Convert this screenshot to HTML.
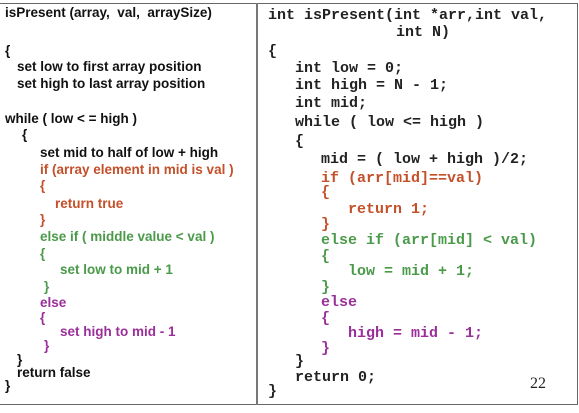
<!DOCTYPE html>
<html><head><meta charset="utf-8"><style>
body{margin:0;width:579px;height:413px;background:#fff;position:relative;overflow:hidden}
.f{position:absolute;left:0;top:3px;width:577px;height:400px;border-top:1.5px solid #666;border-bottom:1.5px solid #666;border-right:1.5px solid #666}
.d{position:absolute;left:256px;top:3px;width:1.5px;height:402px;background:#777}
.l,.r{position:absolute;white-space:pre;line-height:16px}
.l{font:bold 13.5px "Liberation Sans",Arial,sans-serif;color:#111}
.r{font:bold 15px "Liberation Mono",monospace;color:#222}
.o{color:#c4502a}.g{color:#4a9a4a}.p{color:#9a2f9a}
</style></head><body>
<div class="f"></div><div class="d"></div>
<div class="l" style="left:5px;top:5px">isPresent (array,  val,  arraySize)</div>
<div class="l" style="left:5px;top:43px">{</div>
<div class="l" style="left:17px;top:59px">set low to first array position</div>
<div class="l" style="left:17px;top:76px">set high to last array position</div>
<div class="l" style="left:5px;top:111px">while ( low &lt; = high )</div>
<div class="l" style="left:22px;top:127px">{</div>
<div class="l" style="left:40px;top:145px">set mid to half of low + high</div>
<div class="l o" style="left:40px;top:162px">if (array element in mid is val )</div>
<div class="l o" style="left:40px;top:178px">{</div>
<div class="l o" style="left:55px;top:196px">return true</div>
<div class="l o" style="left:40px;top:212px">}</div>
<div class="l g" style="left:40px;top:229px">else if ( middle value &lt; val )</div>
<div class="l g" style="left:40px;top:246px">{</div>
<div class="l g" style="left:60px;top:262px">set low to mid + 1</div>
<div class="l g" style="left:44px;top:279px">}</div>
<div class="l p" style="left:40px;top:295px">else</div>
<div class="l p" style="left:40px;top:310px">{</div>
<div class="l p" style="left:60px;top:324px">set high to mid - 1</div>
<div class="l p" style="left:44px;top:338px">}</div>
<div class="l" style="left:17px;top:352px">}</div>
<div class="l" style="left:17px;top:365px">return false</div>
<div class="l" style="left:5px;top:378px">}</div>

<div class="r" style="left:268px;top:7px">int isPresent(int *arr,int val,</div>
<div class="r" style="left:396px;top:24px">int N)</div>
<div class="r" style="left:268px;top:43px">{</div>
<div class="r" style="left:295px;top:60px">int low = 0;</div>
<div class="r" style="left:295px;top:77px">int high = N - 1;</div>
<div class="r" style="left:295px;top:95px">int mid;</div>
<div class="r" style="left:295px;top:114px">while ( low &lt;= high )</div>
<div class="r" style="left:295px;top:133px">{</div>
<div class="r" style="left:321px;top:151px">mid = ( low + high )/2;</div>
<div class="r o" style="left:321px;top:170px">if (arr[mid]==val)</div>
<div class="r o" style="left:321px;top:184px">{</div>
<div class="r o" style="left:348px;top:201px">return 1;</div>
<div class="r o" style="left:321px;top:216px">}</div>
<div class="r g" style="left:321px;top:232px">else if (arr[mid] &lt; val)</div>
<div class="r g" style="left:321px;top:248px">{</div>
<div class="r g" style="left:348px;top:263px">low = mid + 1;</div>
<div class="r g" style="left:321px;top:279px">}</div>
<div class="r p" style="left:321px;top:294px">else</div>
<div class="r p" style="left:321px;top:310px">{</div>
<div class="r p" style="left:348px;top:325px">high = mid - 1;</div>
<div class="r p" style="left:321px;top:340px">}</div>
<div class="r" style="left:295px;top:353px">}</div>
<div class="r" style="left:295px;top:369px">return 0;</div>
<div class="r" style="left:268px;top:383px">}</div>
<div style="position:absolute;left:530px;top:375px;font:16px 'Liberation Serif',serif;color:#222">22</div>
</body></html>
